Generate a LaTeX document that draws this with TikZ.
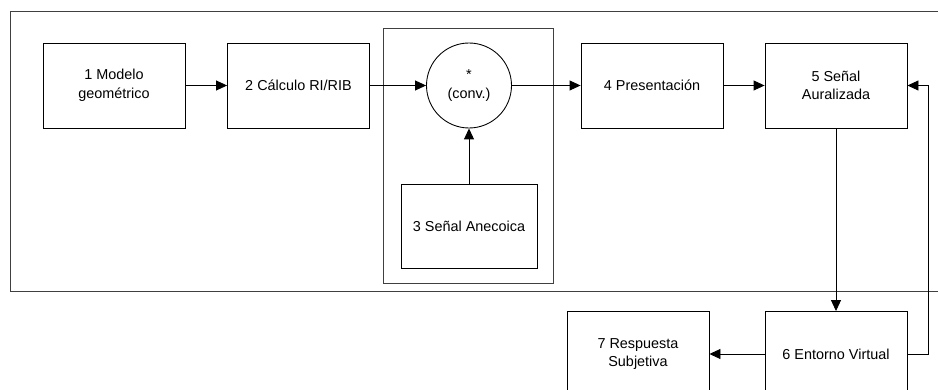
\documentclass[tikz,border=0pt]{standalone}
\usepackage{fontspec}
\setmainfont{Liberation Sans}
\usetikzlibrary{arrows.meta}

\begin{document}
\begin{tikzpicture}[->,>={Triangle[length=2.2mm,width=2mm]},line width=0.5pt,
                    font=\fontsize{8.2}{10.5}\selectfont]
  \tikzstyle{block}=[draw,rectangle,minimum width=2.84cm,minimum height=1.7cm,
                     inner sep=0pt,align=center]
  \tikzstyle{frame}=[-,draw=black!75]

  \useasboundingbox (0,0) rectangle (18.76,-7.8);
  \clip (0,0) rectangle (18.76,-7.8);

  % outer frame, runs off to the right
  \draw[frame] (0.2,-0.22) rectangle (19.5,-5.82);
  % group round the convolution
  \draw[frame] (7.66,-0.56) rectangle (11.06,-5.66);

  \node[block] (modelo)    at (2.28,-1.71)  {1 Modelo\\geométrico};
  \node[block] (calculo)   at (5.97,-1.71)  {2 Cálculo RI/RIB};
  \node[draw,circle,minimum size=1.7cm,inner sep=0pt,align=center]
               (conv)      at (9.38,-1.71)  {*\\(conv.)};
  \node[block,minimum width=2.72cm,minimum height=1.68cm]
               (anecoica)  at (9.38,-4.52)  {3 Señal Anecoica};
  \node[block] (present)   at (13.04,-1.71) {4 Presentación};
  \node[block] (senal)     at (16.72,-1.71) {5 Señal\\Auralizada};
  \node[block] (entorno)   at (16.72,-7.08) {6 Entorno Virtual};
  \node[block] (respuesta) at (12.76,-7.08) {7 Respuesta\\Subjetiva};

  \coordinate (back) at (18.56,-7.08);

  \path (modelo)   edge (calculo)
        (calculo)  edge (conv)
        (conv)     edge (present)
        (present)  edge (senal)
        (anecoica) edge (conv)
        (senal)    edge (entorno)
        (entorno)  edge (respuesta);
  \draw (entorno.east) -- (back) |- (senal.east);

\end{tikzpicture}
\end{document}
